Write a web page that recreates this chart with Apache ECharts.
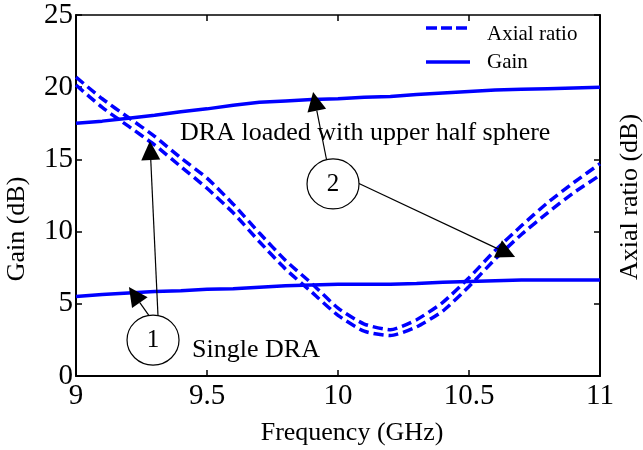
<!DOCTYPE html>
<html>
<head>
<meta charset="utf-8">
<script src="https://cdn.jsdelivr.net/npm/echarts@6/dist/echarts.min.js"></script>
<style>
  html, body { margin: 0; padding: 0; background: #fff; }
  #chart { width: 643px; height: 450px; }
</style>
</head>
<body>
<div id="chart"></div>
<script>
// Frequency sweep (GHz)
const freq = [9.0, 9.1, 9.2, 9.3, 9.4, 9.5, 9.6, 9.7, 9.8, 9.9, 10.0,
              10.1, 10.2, 10.3, 10.4, 10.5, 10.6, 10.7, 10.8, 10.9, 11.0];

// Gain (dB): DRA loaded with upper half sphere
const gainLoaded = [17.5, 17.65, 17.85, 18.05, 18.3, 18.5, 18.75, 18.95, 19.05, 19.15, 19.2,
                    19.3, 19.35, 19.5, 19.6, 19.7, 19.8, 19.85, 19.9, 19.95, 20.0];
// Gain (dB): single DRA
const gainSingle = [5.5, 5.65, 5.75, 5.85, 5.9, 6.0, 6.05, 6.15, 6.25, 6.3, 6.35,
                    6.35, 6.35, 6.4, 6.5, 6.55, 6.6, 6.65, 6.65, 6.65, 6.65];

// Axial ratio (dB), two configurations
const axialA = [20.7, 19.2, 17.9, 16.6, 15.1, 13.7, 11.9, 9.9, 8.0, 6.4, 4.7,
                3.6, 3.2, 3.9, 5.1, 6.8, 8.7, 10.4, 12.0, 13.4, 14.7];
const axialB = [20.15, 18.6, 17.3, 16.0, 14.5, 13.0, 11.3, 9.3, 7.4, 5.8, 4.2,
                3.1, 2.8, 3.4, 4.5, 6.2, 8.1, 9.8, 11.3, 12.7, 13.9];

// Axis ticks
const xTicks = [9, 9.5, 10, 10.5, 11];
const yTicks = [0, 5, 10, 15, 20, 25];

// Legend entries
const legendNames = ['Axial ratio', 'Gain'];

// Annotation anchors in data units (GHz, dB)
const markerLabels = ['1', '2'];
const markerCenters = [[9.294, 2.49], [9.981, 13.3]];
const arrowFrom = [[9.313, 4.15], [9.282, 4.09], [9.958, 14.82], [10.076, 13.37]];
const arrowTo   = [[9.282, 16.27], [9.202, 6.16], [9.905, 19.67], [10.676, 8.24]];
const noteTexts = ['DRA loaded with upper half sphere', 'Single DRA'];
const noteAnchors = [[9.397, 16.83], [9.443, 1.8]];

const FONT = '"Liberation Serif", "Times New Roman", serif';
const BLUE = '#0000ff';

const pairs = arr => freq.map((f, i) => [f, arr[i]]);

const chart = echarts.init(document.getElementById('chart'), null, { renderer: 'canvas' });

const axisLine = { show: true, onZero: false, lineStyle: { color: '#000', width: 2 } };
const tickIn = { show: true, inside: true, length: 6, lineStyle: { color: '#000', width: 1.5 } };

const option = {
  animation: false,
  backgroundColor: '#fff',
  grid: { left: 76, right: 43, top: 15, bottom: 74, containLabel: false },
  xAxis: [
    {
      type: 'value', min: 9, max: 11, interval: 0.5, position: 'bottom',
      axisLine, axisTick: tickIn, splitLine: { show: false },
      axisLabel: {
        color: '#000', fontFamily: FONT, fontSize: 29, margin: 6,
        formatter: v => xTicks.includes(v) ? String(v) : ''
      }
    },
    {
      type: 'value', min: 9, max: 11, interval: 0.5, position: 'top',
      axisLine: { show: true, onZero: false, lineStyle: { color: '#000', width: 1.5 } },
      axisTick: tickIn, axisLabel: { show: false }, splitLine: { show: false }
    }
  ],
  yAxis: [
    {
      type: 'value', min: 0, max: 25, interval: 5, position: 'left',
      axisLine, axisTick: tickIn, splitLine: { show: false },
      axisLabel: {
        color: '#000', fontFamily: FONT, fontSize: 29, margin: 3,
        formatter: v => yTicks.includes(v) ? String(v) : ''
      }
    },
    {
      type: 'value', min: 0, max: 25, interval: 5, position: 'right',
      axisLine, axisTick: tickIn, axisLabel: { show: false }, splitLine: { show: false }
    }
  ],
  series: [
    { name: legendNames[1], type: 'line', data: pairs(gainLoaded), showSymbol: false,
      lineStyle: { color: BLUE, width: 3.5 }, z: 2 },
    { name: legendNames[1], type: 'line', data: pairs(gainSingle), showSymbol: false,
      lineStyle: { color: BLUE, width: 3.5 }, z: 2 },
    { name: legendNames[0], type: 'line', data: pairs(axialA), showSymbol: false, smooth: 0.2,
      lineStyle: { color: BLUE, width: 3.5, type: [10, 5] }, z: 3 },
    { name: legendNames[0], type: 'line', data: pairs(axialB), showSymbol: false, smooth: 0.2,
      lineStyle: { color: BLUE, width: 3.5, type: [10, 5] }, z: 3 }
  ]
};
chart.setOption(option);

// Overlay: legend box, axis titles, markers, arrows and notes
const px = p => chart.convertToPixel({ gridIndex: 0 }, p);
const g = [];

// legend
const legX0 = 426, legX1 = 470, legTextX = 487;
const legY = [28, 62];
g.push({ type: 'line', shape: { x1: legX0, y1: legY[0], x2: legX1, y2: legY[0] },
         style: { stroke: BLUE, lineWidth: 3.5, lineDash: [11, 4] }, z: 10 });
g.push({ type: 'line', shape: { x1: legX0, y1: legY[1], x2: legX1, y2: legY[1] },
         style: { stroke: BLUE, lineWidth: 3.5 }, z: 10 });
legendNames.forEach((name, i) => {
  g.push({ type: 'text', x: legTextX, y: legY[i] + (i === 0 ? 6 : 0), z: 10,
           style: { text: name, fill: '#000', font: '21px ' + FONT,
                    textAlign: 'left', textVerticalAlign: 'middle' } });
});

// axis titles
g.push({ type: 'text', x: 352, y: 433, z: 10,
         style: { text: 'Frequency (GHz)', fill: '#000', font: '26px ' + FONT,
                  textAlign: 'center', textVerticalAlign: 'middle' } });
g.push({ type: 'text', x: 17, y: 229, rotation: Math.PI / 2, z: 10,
         style: { text: 'Gain (dB)', fill: '#000', font: '26px ' + FONT,
                  textAlign: 'center', textVerticalAlign: 'middle' } });
g.push({ type: 'text', x: 630, y: 197, rotation: Math.PI / 2, z: 10,
         style: { text: 'Axial ratio (dB)', fill: '#000', font: '26px ' + FONT,
                  textAlign: 'center', textVerticalAlign: 'middle' } });

// arrows with filled heads
const HEAD_LEN = 19, HEAD_HALF = 9.5;
arrowFrom.forEach((from, i) => {
  const a = px(from), b = px(arrowTo[i]);
  const dx = b[0] - a[0], dy = b[1] - a[1];
  const len = Math.hypot(dx, dy);
  const ux = dx / len, uy = dy / len;
  const bx = b[0] - ux * HEAD_LEN, by = b[1] - uy * HEAD_LEN;
  g.push({ type: 'line', shape: { x1: a[0], y1: a[1], x2: bx, y2: by },
           style: { stroke: '#000', lineWidth: 1.2 }, z: 11 });
  g.push({ type: 'polygon', z: 11,
           shape: { points: [[b[0], b[1]],
                             [bx - uy * HEAD_HALF, by + ux * HEAD_HALF],
                             [bx + uy * HEAD_HALF, by - ux * HEAD_HALF]] },
           style: { fill: '#000' } });
});

// numbered markers
markerCenters.forEach((c, i) => {
  const p = px(c);
  g.push({ type: 'ellipse', shape: { cx: p[0], cy: p[1], rx: 26, ry: 25 },
           style: { fill: '#fff', stroke: '#000', lineWidth: 1.2 }, z: 12 });
  g.push({ type: 'text', x: p[0], y: p[1], z: 13,
           style: { text: markerLabels[i], fill: '#000', font: '25px ' + FONT,
                    textAlign: 'center', textVerticalAlign: 'middle' } });
});

// notes
noteTexts.forEach((t, i) => {
  const p = px(noteAnchors[i]);
  g.push({ type: 'text', x: p[0], y: p[1], z: 12,
           style: { text: t, fill: '#000', font: '26px ' + FONT,
                    textAlign: 'left', textVerticalAlign: 'middle' } });
});

chart.setOption({ graphic: { elements: g } });
</script>
</body>
</html>
